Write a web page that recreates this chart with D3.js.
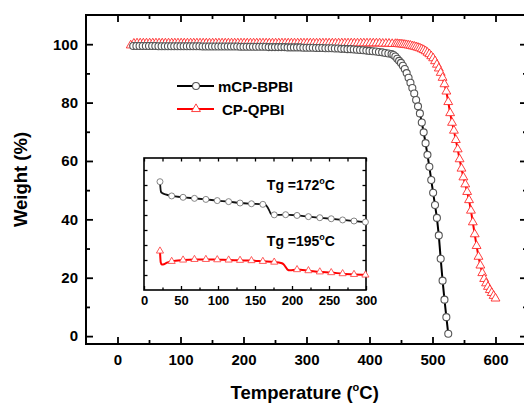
<!DOCTYPE html>
<html>
<head>
<meta charset="utf-8">
<script src="https://cdn.jsdelivr.net/npm/d3@7"></script>
<style>
  html, body { margin: 0; padding: 0; background: #fff; }
  svg { display: block; font-family: Arial, "Liberation Sans", Helvetica, sans-serif; font-weight: bold; }
</style>
</head>
<body>
<svg id="chart" width="524" height="403"></svg>
<script>
// ---------- TGA data: weight (%) vs temperature (°C) ----------
const blackName = "mCP-BPBI";
const redName = "CP-QPBI";

const blackTemp = [
  25,30,35,40,45,50,55,60,65,70,
  75,80,85,90,95,100,105,110,115,120,
  125,130,135,140,145,150,155,160,165,170,
  175,180,185,190,195,200,205,210,215,220,
  225,230,235,240,245,250,255,260,265,270,
  275,280,285,290,295,300,305,310,315,320,
  325,330,335,340,345,350,355,360,365,370,
  375,380,385,390,395,400,405,410,415,420,
  425,430,435,
  438,441,444,447,450,453,456,459,462,465,
  468,471,474,477,480,483,486,489,492,495,
  498,501,504,507,510,513,516,519,522,525
];
const blackWeight = [
  99.4,99.4,99.4,99.4,99.4,99.4,99.4,99.4,99.3,99.3,
  99.3,99.3,99.3,99.3,99.3,99.3,99.3,99.3,99.3,99.3,
  99.3,99.3,99.2,99.2,99.2,99.2,99.2,99.2,99.2,99.2,
  99.2,99.2,99.2,99.2,99.1,99.1,99.1,99.1,99.1,99.1,
  99.1,99.1,99.1,99.0,99.0,99.0,99.0,99.0,99.0,98.9,
  98.9,98.9,98.9,98.9,98.8,98.8,98.8,98.8,98.7,98.7,
  98.7,98.6,98.6,98.6,98.5,98.5,98.4,98.4,98.3,98.3,
  98.2,98.1,98.0,97.9,97.8,97.7,97.6,97.5,97.3,97.2,
  97.0,96.8,96.6,
  96.3,95.8,95.0,94.3,93.6,92.6,91.5,90.1,88.5,86.8,
  85.0,83.1,80.9,78.7,76.3,73.2,69.8,66.1,62.1,58.0,
  53.5,49.1,44.9,40.5,34.5,26.5,19.0,12.5,6.5,0.8
];

const redTemp = [
  21,26,31,36,41,46,51,56,61,66,
  71,76,81,86,91,96,101,106,111,116,
  121,126,131,136,141,146,151,156,161,166,
  171,176,181,186,191,196,201,206,211,216,
  221,226,231,236,241,246,251,256,261,266,
  271,276,281,286,291,296,301,306,311,316,
  321,326,331,336,341,346,351,356,361,366,
  371,376,381,386,391,396,401,406,411,416,
  421,426,431,436,
  441,444,447,450,453,456,459,462,465,468,
  471,474,477,480,483,486,489,492,495,498,
  501,504,507,510,513,516,519,522,525,528,
  531,534,537,540,543,546,549,552,555,558,
  561,564,567,570,573,576,579,582,585,588,
  591,594,597,600
];
const redWeight = [
  99.6,100.2,100.3,100.3,100.3,100.3,100.3,100.3,100.3,100.3,
  100.3,100.3,100.3,100.3,100.3,100.3,100.3,100.3,100.3,100.3,
  100.3,100.3,100.3,100.3,100.3,100.3,100.3,100.3,100.3,100.3,
  100.3,100.3,100.3,100.3,100.3,100.3,100.3,100.3,100.3,100.3,
  100.3,100.3,100.3,100.3,100.3,100.3,100.3,100.3,100.3,100.3,
  100.3,100.3,100.3,100.3,100.3,100.3,100.3,100.3,100.3,100.3,
  100.3,100.3,100.3,100.3,100.3,100.3,100.3,100.3,100.3,100.3,
  100.3,100.3,100.3,100.3,100.3,100.3,100.3,100.3,100.3,100.3,
  100.2,100.2,100.2,100.1,
  100.1,100.1,100.0,100.0,99.9,99.8,99.7,99.6,99.5,99.3,
  99.2,99.0,98.8,98.6,98.3,98.0,97.6,97.1,96.6,95.9,
  95.2,94.2,93.0,91.7,90.2,88.5,86.3,83.8,80.2,76.4,
  73.1,70.4,67.2,64.0,60.6,57.4,54.4,52.0,49.4,46.6,
  43.0,39.0,34.9,30.9,27.2,24.2,21.6,19.6,18.1,16.9,
  15.8,14.8,13.8,12.9
];

// ---------- Inset DSC traces (arbitrary heat-flow units) ----------
const insetBlackT = [21.6,22.9,25,29,37.4,52.8,68.2,83.6,99,114.4,129.8,145.2,160.6,163.5,166,168.5,170.5,172.5,176,191.4,206.8,222.2,237.6,253,268.4,283.8,299.2];
const insetBlackV = [7.22,6.55,6.45,6.38,6.27,6.18,6.11,6.04,5.96,5.89,5.80,5.75,5.71,5.69,5.58,5.38,5.17,5.04,5.01,5.02,4.97,4.89,4.82,4.75,4.67,4.60,4.53];
const insetRedT = [21.6,22.6,24,27,31,37.4,52.8,68.2,83.6,99,114.4,129.8,145.2,160.6,176,185,188.5,191.5,194,197,206.8,222.2,237.6,253,268.4,283.8,299.2];
const insetRedV = [2.6,1.85,1.7,1.72,1.82,1.91,2.0,2.04,2.04,2.02,2.0,1.98,1.96,1.91,1.86,1.80,1.72,1.52,1.36,1.31,1.36,1.29,1.21,1.16,1.09,1.04,1.0];
const insetMarkT = [21.6,37.4,52.8,68.2,83.6,99,114.4,129.8,145.2,160.6,176,191.4,206.8,222.2,237.6,253,268.4,283.8,299.2];
const tgBlack = 172;
const tgRed = 195;

// ---------- tick values ----------
const xMajorTicks = [0,100,200,300,400,500,600];
const xMinorTicks = [50,150,250,350,450,550];
const yMajorTicks = [0,20,40,60,80,100];
const yMinorTicks = [10,30,50,70,90];
const insetXMajor = [0,50,100,150,200,250,300];
const insetXMinor = [25,75,125,175,225,275];
const insetYTicks = [1,2,3,4,5,6,7,8];

// ---------- layout ----------
const svg = d3.select("#chart");
const P = { left: 86, right: 527, top: 15, bottom: 344 };
const x = d3.scaleLinear().domain([-50, 650]).range([P.left, P.right]);
const y = d3.scaleLinear().domain([-2.7, 110]).range([P.bottom, P.top]);

const tickFont = 15;

function styleAxis(g) {
  g.select(".domain").remove();
  g.selectAll(".tick line").attr("stroke", "#000").attr("stroke-width", 1.8);
  g.selectAll("text").attr("font-size", tickFont).attr("font-weight", "bold")
    .attr("font-family", "Arial, 'Liberation Sans', sans-serif").attr("fill", "#000");
}

// bottom
svg.append("g").attr("transform", `translate(0,${P.bottom})`)
  .call(d3.axisBottom(x).tickValues(xMajorTicks).tickSizeInner(-7).tickSizeOuter(0).tickPadding(10))
  .call(styleAxis);
svg.append("g").attr("transform", `translate(0,${P.bottom})`)
  .call(d3.axisBottom(x).tickValues(xMinorTicks).tickSizeInner(-4).tickSizeOuter(0).tickFormat(""))
  .call(styleAxis);
// top
svg.append("g").attr("transform", `translate(0,${P.top})`)
  .call(d3.axisTop(x).tickValues(xMajorTicks).tickSizeInner(-7).tickSizeOuter(0).tickFormat(""))
  .call(styleAxis);
svg.append("g").attr("transform", `translate(0,${P.top})`)
  .call(d3.axisTop(x).tickValues(xMinorTicks).tickSizeInner(-4).tickSizeOuter(0).tickFormat(""))
  .call(styleAxis);
// left
svg.append("g").attr("transform", `translate(${P.left},0)`)
  .call(d3.axisLeft(y).tickValues(yMajorTicks).tickSizeInner(-7).tickSizeOuter(0).tickPadding(8))
  .call(styleAxis);
svg.append("g").attr("transform", `translate(${P.left},0)`)
  .call(d3.axisLeft(y).tickValues(yMinorTicks).tickSizeInner(-4).tickSizeOuter(0).tickFormat(""))
  .call(styleAxis);
// right
svg.append("g").attr("transform", `translate(${P.right},0)`)
  .call(d3.axisRight(y).tickValues(yMajorTicks).tickSizeInner(-7).tickSizeOuter(0).tickFormat(""))
  .call(styleAxis);
svg.append("g").attr("transform", `translate(${P.right},0)`)
  .call(d3.axisRight(y).tickValues(yMinorTicks).tickSizeInner(-4).tickSizeOuter(0).tickFormat(""))
  .call(styleAxis);

// frame
svg.append("rect")
  .attr("x", P.left).attr("y", P.top)
  .attr("width", P.right - P.left).attr("height", P.bottom - P.top)
  .attr("fill", "none").attr("stroke", "#000").attr("stroke-width", 2);

// axis titles
const xTitle = svg.append("text")
  .attr("x", (x(-50) + x(600)) / 2 + 14).attr("y", 399)
  .attr("text-anchor", "middle").attr("font-size", 18.5);
xTitle.append("tspan").text("Temperature (");
xTitle.append("tspan").text("o").attr("font-size", 11).attr("dy", -8);
xTitle.append("tspan").text("C)").attr("dy", 8);

const yTitle = svg.append("text")
  .attr("transform", `translate(26.5,${(P.top + P.bottom) / 2}) rotate(-90)`)
  .attr("text-anchor", "middle").attr("font-size", 18.5);
yTitle.text("Weight (%)");

// ---------- main curves ----------
const line = d3.line().x(d => x(d[0])).y(d => y(d[1]));
const redPts = redTemp.map((t, i) => [t, redWeight[i]]);
const blackPts = blackTemp.map((t, i) => [t, blackWeight[i]]);

const plot = svg.append("g");
const triSym = d3.symbol(d3.symbolTriangle, 34);
const redMark = "#ff2a2a";
const greyMark = "#555";

plot.append("path").datum(redPts).attr("d", line)
  .attr("fill", "none").attr("stroke", "#ff0000").attr("stroke-width", 2);
plot.selectAll(".red-mark").data(redPts).join("path")
  .attr("class", "red-mark")
  .attr("d", triSym)
  .attr("transform", d => `translate(${x(d[0])},${y(d[1])})`)
  .attr("fill", "#fff").attr("stroke", redMark).attr("stroke-width", 0.9);

plot.append("path").datum(blackPts).attr("d", line)
  .attr("fill", "none").attr("stroke", "#000").attr("stroke-width", 2);
plot.selectAll(".black-mark").data(blackPts).join("circle")
  .attr("class", "black-mark")
  .attr("cx", d => x(d[0])).attr("cy", d => y(d[1])).attr("r", 3.5)
  .attr("fill", "#fff").attr("stroke", greyMark).attr("stroke-width", 1.1);

// ---------- legend ----------
const legend = svg.append("g");
const legendRows = [
  { name: blackName, color: "#000", mark: greyMark, sym: "circle", y: 86, tx: 218 },
  { name: redName, color: "#ff0000", mark: redMark, sym: "tri", y: 109, tx: 222 }
];
legendRows.forEach(r => {
  legend.append("line").attr("x1", 177).attr("x2", 214).attr("y1", r.y).attr("y2", r.y)
    .attr("stroke", r.color).attr("stroke-width", 2);
  if (r.sym === "circle") {
    legend.append("circle").attr("cx", 196).attr("cy", r.y).attr("r", 3.5)
      .attr("fill", "#fff").attr("stroke", r.mark).attr("stroke-width", 1.1);
  } else {
    legend.append("path").attr("d", triSym).attr("transform", `translate(196,${r.y})`)
      .attr("fill", "#fff").attr("stroke", r.mark).attr("stroke-width", 0.9);
  }
  legend.append("text").attr("x", r.tx).attr("y", r.y + 6).attr("font-size", 15).text(r.name);
});

// ---------- inset ----------
const I = { left: 144, right: 366, top: 158, bottom: 290 };
const ix = d3.scaleLinear().domain([0, 300]).range([I.left, I.right]);
const iy = d3.scaleLinear().domain([0, 8.8]).range([I.bottom, I.top]);

const inset = svg.append("g");
inset.append("rect").attr("x", I.left).attr("y", I.top)
  .attr("width", I.right - I.left).attr("height", I.bottom - I.top)
  .attr("fill", "#fff");

function styleInset(g) {
  g.select(".domain").remove();
  g.selectAll(".tick line").attr("stroke", "#000").attr("stroke-width", 1.3);
  g.selectAll("text").attr("font-size", 13).attr("font-weight", "bold")
    .attr("font-family", "Arial, 'Liberation Sans', sans-serif").attr("fill", "#000");
}
inset.append("g").attr("transform", `translate(0,${I.bottom})`)
  .call(d3.axisBottom(ix).tickValues(insetXMajor).tickSizeInner(-4).tickSizeOuter(0).tickPadding(6))
  .call(styleInset);
inset.append("g").attr("transform", `translate(0,${I.bottom})`)
  .call(d3.axisBottom(ix).tickValues(insetXMinor).tickSizeInner(-2.5).tickSizeOuter(0).tickFormat(""))
  .call(styleInset);
inset.append("g").attr("transform", `translate(0,${I.top})`)
  .call(d3.axisTop(ix).tickValues(insetXMinor.concat(insetXMajor)).tickSizeInner(-3.5).tickSizeOuter(0).tickFormat(""))
  .call(styleInset);
inset.append("g").attr("transform", `translate(${I.left},0)`)
  .call(d3.axisLeft(iy).tickValues(insetYTicks).tickSizeInner(-3.5).tickSizeOuter(0).tickFormat(""))
  .call(styleInset);
inset.append("g").attr("transform", `translate(${I.right},0)`)
  .call(d3.axisRight(iy).tickValues(insetYTicks).tickSizeInner(-3.5).tickSizeOuter(0).tickFormat(""))
  .call(styleInset);
inset.append("rect").attr("x", I.left).attr("y", I.top)
  .attr("width", I.right - I.left).attr("height", I.bottom - I.top)
  .attr("fill", "none").attr("stroke", "#000").attr("stroke-width", 1.6);

const iline = d3.line().x(d => ix(d[0])).y(d => iy(d[1])).curve(d3.curveMonotoneX);
const insetBlack = insetBlackT.map((t, i) => [t, insetBlackV[i]]);
const insetRed = insetRedT.map((t, i) => [t, insetRedV[i]]);
const isMark = d => insetMarkT.includes(d[0]);

inset.append("path").datum(insetBlack).attr("d", iline)
  .attr("fill", "none").attr("stroke", "#111").attr("stroke-width", 1.8);
inset.selectAll(".ib").data(insetBlack.filter(isMark)).join("circle")
  .attr("class", "ib").attr("cx", d => ix(d[0])).attr("cy", d => iy(d[1])).attr("r", 3)
  .attr("fill", "#fff").attr("stroke", "#777").attr("stroke-width", 0.9);

inset.append("path").datum(insetRed).attr("d", iline)
  .attr("fill", "none").attr("stroke", "#ff0000").attr("stroke-width", 2);
inset.selectAll(".ir").data(insetRed.filter(isMark)).join("path")
  .attr("class", "ir").attr("d", d3.symbol(d3.symbolTriangle, 22))
  .attr("transform", d => `translate(${ix(d[0])},${iy(d[1])})`)
  .attr("fill", "#fff").attr("stroke", "#ff4a4a").attr("stroke-width", 0.9);

function tgLabel(val, vy) {
  const t = inset.append("text").attr("x", ix(166)).attr("y", iy(vy)).attr("font-size", 14);
  t.append("tspan").text("Tg =" + val);
  t.append("tspan").text("o").attr("font-size", 9).attr("dy", -6);
  t.append("tspan").text("C").attr("dy", 6);
}
tgLabel(tgBlack, 6.67);
tgLabel(tgRed, 2.93);
</script>
</body>
</html>
